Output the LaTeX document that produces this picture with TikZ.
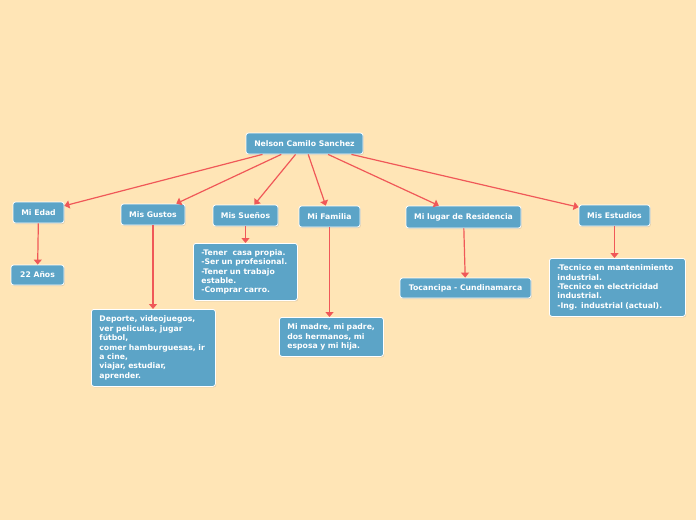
\documentclass[tikz,border=0pt]{standalone}
\usepackage{fontspec}
\setmainfont{DejaVu Sans}
\usetikzlibrary{arrows.meta,shadows}

\definecolor{bgpaper}{RGB}{255,229,182}
\definecolor{boxblue}{RGB}{92,164,199}
\definecolor{linkred}{RGB}{240,88,88}

\tikzset{
  topic/.style={draw=white, line width=0.8pt, fill=boxblue, rounded corners=2.5pt,
    text=white, font={\fontsize{7.7}{9.4}\selectfont\bfseries}, inner sep=4pt,
    drop shadow={shadow xshift=0.8pt, shadow yshift=-1pt, opacity=0.25}},
  notebox/.style={topic, align=left, inner xsep=8pt, inner ysep=6pt, anchor=north west},
  link/.style={draw=linkred, line width=1.2pt, -{Triangle[width=8pt,length=5pt]}}
}

\begin{document}
\begin{tikzpicture}[x=1pt, y=-1pt]

\useasboundingbox[fill=bgpaper] (0,0) rectangle (696,520);

% first level
\node [topic, minimum width=117pt, minimum height=21pt] (root) at (304.5,143.5) {Nelson Camilo Sanchez};

\node [topic, minimum width=51pt, minimum height=21pt] (edad) at (38.5,212.5) {Mi Edad};
\node [topic, minimum width=64pt, minimum height=21pt] (gustos) at (153,214.5) {Mis Gustos};
\node [topic, minimum width=65pt, minimum height=21pt] (suenos) at (245.5,215.5) {Mis Sueños};
\node [topic, minimum width=61pt, minimum height=21pt] (familia) at (329.5,216.5) {Mi Familia};
\node [topic, minimum width=115pt, minimum height=22pt] (lugar) at (463.5,217) {Mi lugar de Residencia};
\node [topic, minimum width=71pt, minimum height=21pt] (estudios) at (614.5,215.5) {Mis Estudios};

% second level
\node [topic, minimum width=53pt, minimum height=20pt] (anos) at (37.5,275) {22 Años};

\node [notebox, text width=88pt, minimum height=57pt] (suenoslist) at (193,243) {-Tener \ casa propia.\\-Ser un profesional.\\-Tener un trabajo\\estable.\\-Comprar carro.};

\node [notebox, text width=108pt, minimum height=77pt] (gustoslist) at (91,309) {Deporte, videojuegos,\\ver peliculas, jugar\\fútbol,\\comer hamburguesas, ir\\a cine,\\viajar, estudiar,\\aprender.};

\node [notebox, text width=88pt, minimum height=39pt] (familialist) at (279,317) {Mi madre, mi padre,\\dos hermanos, mi\\esposa y mi hija.};

\node [topic, minimum width=131pt, minimum height=20pt] (tocancipa) at (465.5,288) {Tocancipa - Cundinamarca};

\node [notebox, text width=120pt, minimum height=58pt] (estudioslist) at (549,258) {-Tecnico en mantenimiento\\industrial.\\-Tecnico en electricidad\\industrial.\\-Ing. industrial (actual).};

% connectors
\foreach \child in {edad,gustos,suenos,familia,lugar,estudios}
  \draw [link] (root) -- (\child);

\draw [link] (edad) -- (anos);
\draw [link] (gustos) -- (gustos |- gustoslist.north);
\draw [link] (suenos) -- (suenos |- suenoslist.north);
\draw [link] (familia) -- (familia |- familialist.north);
\draw [link] (lugar) -- (tocancipa);
\draw [link] (estudios) -- (estudios |- estudioslist.north);

\end{tikzpicture}
\end{document}
